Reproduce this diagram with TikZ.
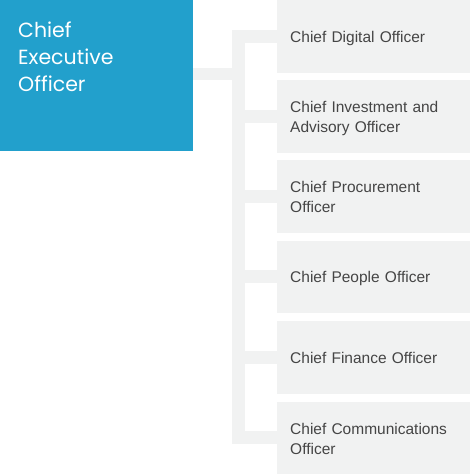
\documentclass[tikz,border=0pt]{standalone}
\usepackage{fontspec}
\setmainfont{Liberation Sans}
\newfontfamily\ceofont{Poppins}
\definecolor{ceoblue}{HTML}{22A0CC}
\definecolor{boxgray}{HTML}{F1F2F2}
\definecolor{txtgray}{HTML}{454545}
\begin{document}
\begin{tikzpicture}[x=1pt,y=1pt,
  ceobox/.style={fill=ceoblue,draw=none,minimum width=193pt,minimum height=151pt,inner sep=0pt,anchor=north west},
  ceotext/.style={text=white,font=\ceofont\fontsize{20.5}{27.2}\selectfont,align=left,inner sep=0pt,anchor=base west},
  offbox/.style={fill=boxgray,draw=none,minimum width=193pt,minimum height=72.5pt,inner xsep=13pt,inner ysep=0pt,
    text width=167pt,align=left,anchor=north west,text=txtgray,text depth=0pt,font=\fontsize{15.5}{20}\selectfont},
  twoline/.style={text depth=19pt},
  link/.style={draw=boxgray,line width=13pt},
]
\useasboundingbox (0,0) rectangle (470,-474);
\coordinate (tl) at (232,0);
\coordinate (tc) at (238.5,0);
\node[ceobox] (ceo) at (0,0) {};
\node[offbox] (o1) at (277,0) {Chief Digital Officer};
\node[offbox,twoline] (o2) at (277,-80) {Chief Investment and\\Advisory Officer};
\node[offbox,twoline] (o3) at (277,-160) {Chief Procurement\\Officer};
\node[offbox] (o4) at (277,-240.5) {Chief People Officer};
\node[offbox] (o5) at (277,-321) {Chief Finance Officer};
\node[offbox,twoline] (o6) at (277,-401.5) {Chief Communications\\Officer};
\draw[link,line cap=rect] (o1.west -| tc) -- (o6.west -| tc);
\foreach \n in {o1,o2,o3,o4,o5,o6}{
  \draw[link] (\n.west -| tl) -- (\n.west);
}
\draw[draw=boxgray,line width=12pt] ([yshift=1.5pt]ceo.east) -- ([yshift=1.5pt]ceo.east -| tc);
\node[ceotext] (ceolabel) at (18,-91.7) {Chief\\Executive\\Officer};
\end{tikzpicture}
\end{document}
